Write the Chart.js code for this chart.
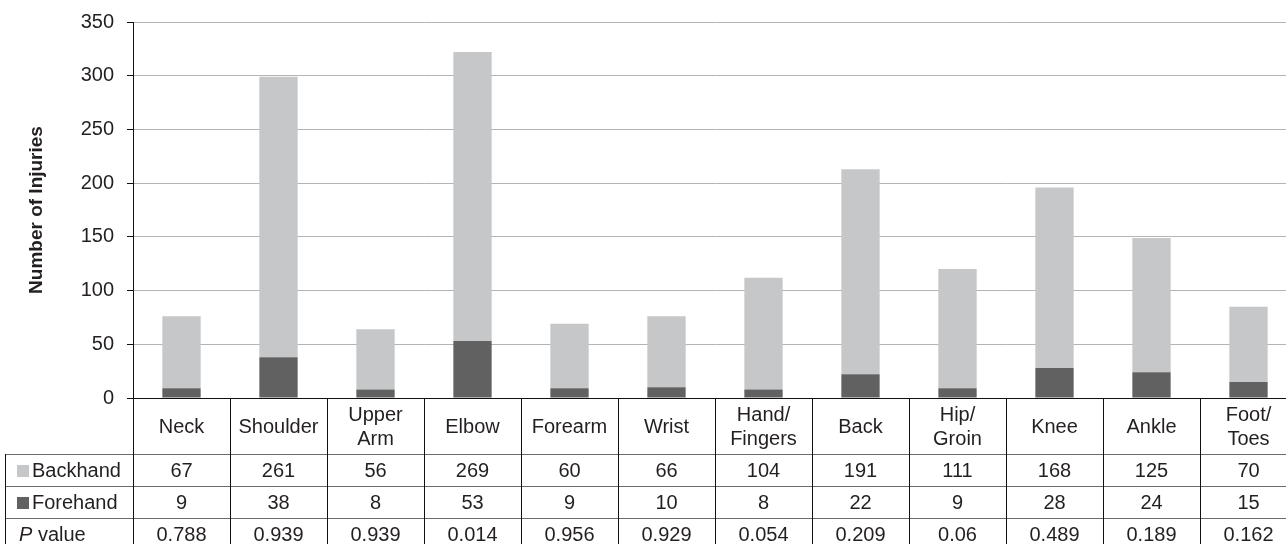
<!DOCTYPE html>
<html>
<head>
<meta charset="utf-8">
<script src="https://cdn.jsdelivr.net/npm/chart.js@4"></script>
<style>
  html, body { margin: 0; padding: 0; background: #fff; overflow: hidden; }
</style>
</head>
<body>
<canvas id="chart" width="1297" height="544" style="width:1297px;height:544px"></canvas>
<script>
const categories = [['Neck'], ['Shoulder'], ['Upper', 'Arm'], ['Elbow'], ['Forearm'], ['Wrist'],
  ['Hand/', 'Fingers'], ['Back'], ['Hip/', 'Groin'], ['Knee'], ['Ankle'], ['Foot/', 'Toes']];
const backhand = [67, 261, 56, 269, 60, 66, 104, 191, 111, 168, 125, 70];
const forehand = [9, 38, 8, 53, 9, 10, 8, 22, 9, 28, 24, 15];
const pValues = ['0.788', '0.939', '0.939', '0.014', '0.956', '0.929', '0.054', '0.209', '0.06', '0.489', '0.189', '0.162'];
const yMin = 0, yMax = 350, yStep = 50;

const backColor = '#c6c7c9';
const foreColor = '#616162';
const textColor = '#231f20';
const font = '"Liberation Sans", Arial, sans-serif';

// draws the category row + data table under the plot, aligned to the x scale
const dataTable = {
  id: 'dataTable',
  afterDraw(chart) {
    const ctx = chart.ctx;
    const area = chart.chartArea;
    const xs = chart.scales.x;
    const n = categories.length;
    const w = (area.right - area.left) / n;
    const right = chart.width;
    const y0 = area.bottom, y1 = y0 + 56, y2 = y1 + 32, y3 = y2 + 32, y4 = y3 + 32;
    const tableLeft = 5;

    ctx.save();
    // horizontal row lines
    ctx.strokeStyle = '#6d6d6d';
    ctx.lineWidth = 1;
    [y1, y2, y3].forEach(y => {
      ctx.beginPath();
      ctx.moveTo(tableLeft, y + 0.5);
      ctx.lineTo(right, y + 0.5);
      ctx.stroke();
    });
    // vertical lines
    ctx.strokeStyle = '#111';
    for (let i = 0; i <= n; i++) {
      const x = Math.round(area.left + i * w) + 0.5;
      ctx.beginPath();
      ctx.moveTo(x, y0);
      ctx.lineTo(x, chart.height);
      ctx.stroke();
    }
    ctx.beginPath();
    ctx.moveTo(tableLeft + 0.5, y1);
    ctx.lineTo(tableLeft + 0.5, chart.height);
    ctx.stroke();
    // x axis line
    ctx.beginPath();
    ctx.moveTo(area.left, y0 + 0.5);
    ctx.lineTo(right, y0 + 0.5);
    ctx.stroke();

    ctx.fillStyle = textColor;
    ctx.font = '20px ' + font;
    ctx.textAlign = 'center';
    ctx.textBaseline = 'middle';
    const catMid = (y0 + y1) / 2 + 1;
    categories.forEach((lines, i) => {
      const cx = xs.getPixelForValue(i);
      lines.forEach((t, j) => {
        const cy = catMid + (j - (lines.length - 1) / 2) * 24;
        ctx.fillText(t, cx, cy);
      });
      ctx.fillText(String(backhand[i]), cx, (y1 + y2) / 2 + 1);
      ctx.fillText(String(forehand[i]), cx, (y2 + y3) / 2 + 1);
      ctx.fillText(pValues[i], cx, (y3 + y4) / 2 + 1);
    });

    // row headers
    ctx.textAlign = 'left';
    ctx.fillStyle = backColor;
    ctx.fillRect(17, (y1 + y2) / 2 - 5, 12, 12);
    ctx.fillStyle = foreColor;
    ctx.fillRect(17, (y2 + y3) / 2 - 5, 12, 12);
    ctx.fillStyle = textColor;
    ctx.fillText('Backhand', 32, (y1 + y2) / 2 + 1);
    ctx.fillText('Forehand', 32, (y2 + y3) / 2 + 1);
    ctx.font = 'italic 20px ' + font;
    ctx.fillText('P', 19, (y3 + y4) / 2 + 1);
    const pw = ctx.measureText('P').width;
    ctx.font = '20px ' + font;
    ctx.fillText(' value', 19 + pw, (y3 + y4) / 2 + 1);
    ctx.restore();
  }
};

new Chart(document.getElementById('chart').getContext('2d'), {
  type: 'bar',
  data: {
    labels: categories.map(c => c.join(' ')),
    datasets: [
      { label: 'Forehand', data: forehand, backgroundColor: foreColor },
      { label: 'Backhand', data: backhand, backgroundColor: backColor }
    ]
  },
  options: {
    responsive: false,
    animation: false,
    layout: { padding: { top: 22, right: 0, bottom: 146, left: 0 } },
    datasets: { bar: { categoryPercentage: 1, barPercentage: 0.395 } },
    plugins: { legend: { display: false }, tooltip: { enabled: false } },
    scales: {
      x: { stacked: true, display: false },
      y: {
        stacked: true,
        min: yMin,
        max: yMax,
        afterFit(scale) {
          scale.width = 133;
          scale.paddingTop = 0;
          scale.paddingBottom = 0;
        },
        ticks: { stepSize: yStep, color: textColor, padding: 13, font: { family: font, size: 20 } },
        grid: { color: '#b4b4b4', tickColor: '#111', tickLength: 6 },
        border: { color: '#111' },
        title: {
          display: true,
          text: 'Number of Injuries',
          color: textColor,
          padding: { top: 25, bottom: 0 },
          font: { family: font, size: 19, weight: 'bold' }
        }
      }
    }
  },
  plugins: [dataTable]
});
</script>
</body>
</html>
